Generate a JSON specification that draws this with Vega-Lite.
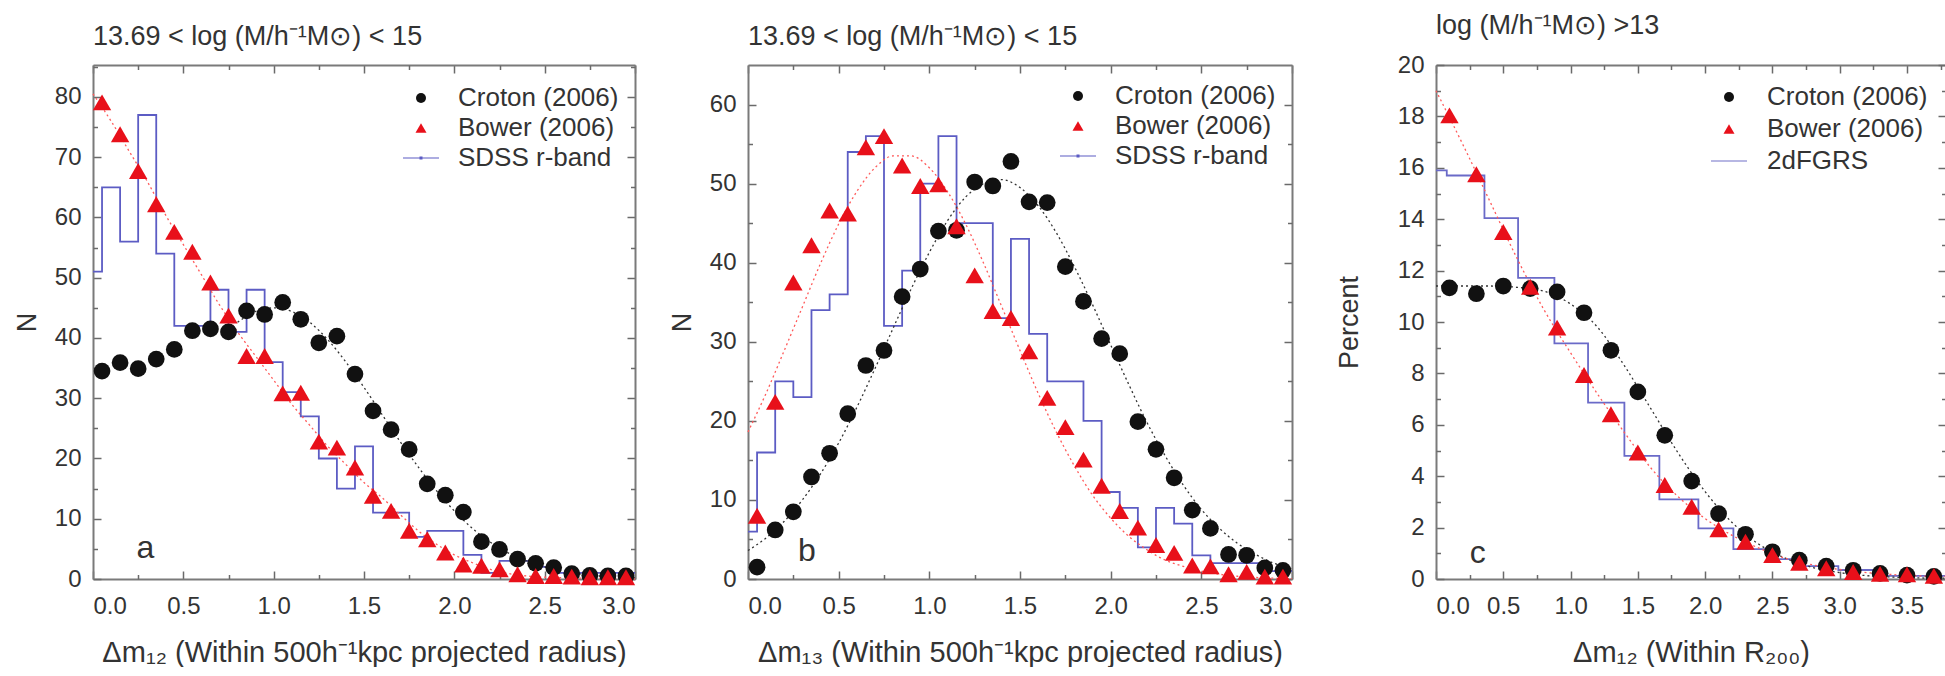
{
  "$schema": "https://vega.github.io/schema/vega-lite/v6.json",
  "background": "white",
  "padding": {"left": 13, "top": 12, "right": 0, "bottom": 0},
  "datasets": {
    "a_hist": [
      {"dm": 0.0, "n": 51}, {"dm": 0.1, "n": 65}, {"dm": 0.2, "n": 56}, {"dm": 0.3, "n": 77}, {"dm": 0.4, "n": 54},
      {"dm": 0.5, "n": 42}, {"dm": 0.6, "n": 42}, {"dm": 0.7, "n": 48}, {"dm": 0.8, "n": 41}, {"dm": 0.9, "n": 48},
      {"dm": 1.0, "n": 36}, {"dm": 1.1, "n": 31}, {"dm": 1.2, "n": 27}, {"dm": 1.3, "n": 20}, {"dm": 1.4, "n": 15},
      {"dm": 1.5, "n": 22}, {"dm": 1.6, "n": 11}, {"dm": 1.7, "n": 11}, {"dm": 1.8, "n": 7}, {"dm": 1.9, "n": 8},
      {"dm": 2.0, "n": 8}, {"dm": 2.1, "n": 4}, {"dm": 2.2, "n": 1}, {"dm": 2.3, "n": 3}, {"dm": 2.4, "n": 3},
      {"dm": 2.5, "n": 2}, {"dm": 2.6, "n": 1}, {"dm": 2.7, "n": 1}, {"dm": 2.8, "n": 1}, {"dm": 2.9, "n": 1},
      {"dm": 3.0, "n": 1}
    ],
    "a_fit_croton": [
      {"dm": 0.8, "n": 42.6}, {"dm": 0.9, "n": 44.4}, {"dm": 1.0, "n": 45.0}, {"dm": 1.1, "n": 44.4}, {"dm": 1.2, "n": 42.6},
      {"dm": 1.3, "n": 39.7}, {"dm": 1.4, "n": 36.0}, {"dm": 1.5, "n": 31.8}, {"dm": 1.6, "n": 27.3}, {"dm": 1.7, "n": 22.8},
      {"dm": 1.8, "n": 18.6}, {"dm": 1.9, "n": 14.7}, {"dm": 2.0, "n": 11.3}, {"dm": 2.1, "n": 8.4}, {"dm": 2.2, "n": 6.1},
      {"dm": 2.3, "n": 4.3}, {"dm": 2.4, "n": 3.0}, {"dm": 2.5, "n": 2.0}, {"dm": 2.6, "n": 1.3}, {"dm": 2.7, "n": 0.8},
      {"dm": 2.8, "n": 0.5}, {"dm": 2.9, "n": 0.3}, {"dm": 3.0, "n": 0.2}
    ],
    "a_fit_bower": [
      {"dm": 0.0, "n": 80.5}, {"dm": 0.1, "n": 76}, {"dm": 0.2, "n": 71}, {"dm": 0.3, "n": 66}, {"dm": 0.4, "n": 60.5},
      {"dm": 0.5, "n": 55.5}, {"dm": 0.6, "n": 50.5}, {"dm": 0.7, "n": 45.5}, {"dm": 0.8, "n": 41}, {"dm": 0.9, "n": 37},
      {"dm": 1.0, "n": 33}, {"dm": 1.1, "n": 29}, {"dm": 1.2, "n": 25.5}, {"dm": 1.3, "n": 22}, {"dm": 1.4, "n": 19},
      {"dm": 1.5, "n": 16}, {"dm": 1.6, "n": 13.5}, {"dm": 1.7, "n": 10.7}, {"dm": 1.8, "n": 8}, {"dm": 1.9, "n": 5.8},
      {"dm": 2.0, "n": 4}, {"dm": 2.1, "n": 2.7}, {"dm": 2.2, "n": 1.6}, {"dm": 2.3, "n": 0.9}, {"dm": 2.4, "n": 0.5},
      {"dm": 2.6, "n": 0.2}, {"dm": 2.8, "n": 0.1}, {"dm": 3.0, "n": 0.0}
    ],
    "a_points": [
      {"dm": 0.05, "n": 34.5, "model": "Croton (2006)"}, {"dm": 0.15, "n": 35.9, "model": "Croton (2006)"},
      {"dm": 0.25, "n": 34.9, "model": "Croton (2006)"}, {"dm": 0.35, "n": 36.5, "model": "Croton (2006)"},
      {"dm": 0.45, "n": 38.1, "model": "Croton (2006)"}, {"dm": 0.55, "n": 41.2, "model": "Croton (2006)"},
      {"dm": 0.65, "n": 41.5, "model": "Croton (2006)"}, {"dm": 0.75, "n": 41.0, "model": "Croton (2006)"},
      {"dm": 0.85, "n": 44.5, "model": "Croton (2006)"}, {"dm": 0.95, "n": 43.9, "model": "Croton (2006)"},
      {"dm": 1.05, "n": 45.9, "model": "Croton (2006)"}, {"dm": 1.15, "n": 43.1, "model": "Croton (2006)"},
      {"dm": 1.25, "n": 39.2, "model": "Croton (2006)"}, {"dm": 1.35, "n": 40.3, "model": "Croton (2006)"},
      {"dm": 1.45, "n": 34.0, "model": "Croton (2006)"}, {"dm": 1.55, "n": 27.9, "model": "Croton (2006)"},
      {"dm": 1.65, "n": 24.8, "model": "Croton (2006)"}, {"dm": 1.75, "n": 21.5, "model": "Croton (2006)"},
      {"dm": 1.85, "n": 15.8, "model": "Croton (2006)"}, {"dm": 1.95, "n": 13.9, "model": "Croton (2006)"},
      {"dm": 2.05, "n": 11.1, "model": "Croton (2006)"}, {"dm": 2.15, "n": 6.2, "model": "Croton (2006)"},
      {"dm": 2.25, "n": 4.9, "model": "Croton (2006)"}, {"dm": 2.35, "n": 3.3, "model": "Croton (2006)"},
      {"dm": 2.45, "n": 2.6, "model": "Croton (2006)"}, {"dm": 2.55, "n": 1.9, "model": "Croton (2006)"},
      {"dm": 2.65, "n": 0.9, "model": "Croton (2006)"}, {"dm": 2.75, "n": 0.6, "model": "Croton (2006)"},
      {"dm": 2.85, "n": 0.5, "model": "Croton (2006)"}, {"dm": 2.95, "n": 0.5, "model": "Croton (2006)"},
      {"dm": 0.05, "n": 79.1, "model": "Bower (2006)"}, {"dm": 0.15, "n": 73.8, "model": "Bower (2006)"},
      {"dm": 0.25, "n": 67.7, "model": "Bower (2006)"}, {"dm": 0.35, "n": 62.2, "model": "Bower (2006)"},
      {"dm": 0.45, "n": 57.6, "model": "Bower (2006)"}, {"dm": 0.55, "n": 54.3, "model": "Bower (2006)"},
      {"dm": 0.65, "n": 49.2, "model": "Bower (2006)"}, {"dm": 0.75, "n": 43.7, "model": "Bower (2006)"},
      {"dm": 0.85, "n": 37.0, "model": "Bower (2006)"}, {"dm": 0.95, "n": 37.0, "model": "Bower (2006)"},
      {"dm": 1.05, "n": 30.8, "model": "Bower (2006)"}, {"dm": 1.15, "n": 30.9, "model": "Bower (2006)"},
      {"dm": 1.25, "n": 22.8, "model": "Bower (2006)"}, {"dm": 1.35, "n": 21.8, "model": "Bower (2006)"},
      {"dm": 1.45, "n": 18.5, "model": "Bower (2006)"}, {"dm": 1.55, "n": 13.8, "model": "Bower (2006)"},
      {"dm": 1.65, "n": 11.3, "model": "Bower (2006)"}, {"dm": 1.75, "n": 8.0, "model": "Bower (2006)"},
      {"dm": 1.85, "n": 6.6, "model": "Bower (2006)"}, {"dm": 1.95, "n": 4.4, "model": "Bower (2006)"},
      {"dm": 2.05, "n": 2.4, "model": "Bower (2006)"}, {"dm": 2.15, "n": 2.2, "model": "Bower (2006)"},
      {"dm": 2.25, "n": 1.6, "model": "Bower (2006)"}, {"dm": 2.35, "n": 0.8, "model": "Bower (2006)"},
      {"dm": 2.45, "n": 0.5, "model": "Bower (2006)"}, {"dm": 2.55, "n": 0.5, "model": "Bower (2006)"},
      {"dm": 2.65, "n": 0.4, "model": "Bower (2006)"}, {"dm": 2.75, "n": 0.3, "model": "Bower (2006)"},
      {"dm": 2.85, "n": 0.3, "model": "Bower (2006)"}, {"dm": 2.95, "n": 0.3, "model": "Bower (2006)"}
    ],
    "b_hist": [
      {"dm": 0.0, "n": 6}, {"dm": 0.1, "n": 16}, {"dm": 0.2, "n": 25}, {"dm": 0.3, "n": 23}, {"dm": 0.4, "n": 34},
      {"dm": 0.5, "n": 36}, {"dm": 0.6, "n": 54}, {"dm": 0.7, "n": 56}, {"dm": 0.8, "n": 32}, {"dm": 0.9, "n": 39},
      {"dm": 1.0, "n": 50}, {"dm": 1.1, "n": 56}, {"dm": 1.2, "n": 45}, {"dm": 1.3, "n": 45}, {"dm": 1.4, "n": 33},
      {"dm": 1.5, "n": 43}, {"dm": 1.6, "n": 31}, {"dm": 1.7, "n": 25}, {"dm": 1.8, "n": 25}, {"dm": 1.9, "n": 20},
      {"dm": 2.0, "n": 11}, {"dm": 2.1, "n": 9}, {"dm": 2.2, "n": 4}, {"dm": 2.3, "n": 9}, {"dm": 2.4, "n": 7},
      {"dm": 2.5, "n": 3}, {"dm": 2.6, "n": 2}, {"dm": 2.7, "n": 2}, {"dm": 2.8, "n": 2}, {"dm": 2.9, "n": 1},
      {"dm": 3.0, "n": 1}
    ],
    "b_fit_croton": [
      {"dm": 0.0, "n": 3.6}, {"dm": 0.1, "n": 5.2}, {"dm": 0.2, "n": 7.3}, {"dm": 0.3, "n": 10.0}, {"dm": 0.4, "n": 13.3},
      {"dm": 0.5, "n": 17.2}, {"dm": 0.6, "n": 21.7}, {"dm": 0.7, "n": 26.6}, {"dm": 0.8, "n": 31.7}, {"dm": 0.9, "n": 36.7},
      {"dm": 1.0, "n": 41.3}, {"dm": 1.1, "n": 45.3}, {"dm": 1.2, "n": 48.3}, {"dm": 1.3, "n": 50.0}, {"dm": 1.4, "n": 50.5},
      {"dm": 1.5, "n": 49.5}, {"dm": 1.6, "n": 47.2}, {"dm": 1.7, "n": 43.8}, {"dm": 1.8, "n": 39.5}, {"dm": 1.9, "n": 34.7},
      {"dm": 2.0, "n": 29.6}, {"dm": 2.1, "n": 24.6}, {"dm": 2.2, "n": 19.8}, {"dm": 2.3, "n": 15.6}, {"dm": 2.4, "n": 11.9},
      {"dm": 2.5, "n": 8.8}, {"dm": 2.6, "n": 6.4}, {"dm": 2.7, "n": 4.5}, {"dm": 2.8, "n": 3.1}, {"dm": 2.9, "n": 2.0},
      {"dm": 3.0, "n": 1.3}
    ],
    "b_fit_bower": [
      {"dm": 0.0, "n": 18.6}, {"dm": 0.1, "n": 23.5}, {"dm": 0.2, "n": 28.9}, {"dm": 0.3, "n": 34.4}, {"dm": 0.4, "n": 39.9},
      {"dm": 0.5, "n": 44.9}, {"dm": 0.6, "n": 49.0}, {"dm": 0.7, "n": 52.0}, {"dm": 0.8, "n": 53.5}, {"dm": 0.9, "n": 53.5},
      {"dm": 1.0, "n": 52.0}, {"dm": 1.1, "n": 49.0}, {"dm": 1.2, "n": 44.9}, {"dm": 1.3, "n": 39.9}, {"dm": 1.4, "n": 34.4},
      {"dm": 1.5, "n": 28.9}, {"dm": 1.6, "n": 23.5}, {"dm": 1.7, "n": 18.6}, {"dm": 1.8, "n": 14.3}, {"dm": 1.9, "n": 10.6},
      {"dm": 2.0, "n": 7.7}, {"dm": 2.1, "n": 5.4}, {"dm": 2.2, "n": 3.7}, {"dm": 2.3, "n": 2.4}, {"dm": 2.4, "n": 1.6},
      {"dm": 2.5, "n": 1.0}, {"dm": 2.6, "n": 0.6}, {"dm": 2.7, "n": 0.35}, {"dm": 2.8, "n": 0.2}, {"dm": 2.9, "n": 0.1},
      {"dm": 3.0, "n": 0.05}
    ],
    "b_points": [
      {"dm": 0.05, "n": 1.5, "model": "Croton (2006)"}, {"dm": 0.15, "n": 6.2, "model": "Croton (2006)"},
      {"dm": 0.25, "n": 8.5, "model": "Croton (2006)"}, {"dm": 0.35, "n": 12.9, "model": "Croton (2006)"},
      {"dm": 0.45, "n": 15.9, "model": "Croton (2006)"}, {"dm": 0.55, "n": 20.9, "model": "Croton (2006)"},
      {"dm": 0.65, "n": 27.0, "model": "Croton (2006)"}, {"dm": 0.75, "n": 28.9, "model": "Croton (2006)"},
      {"dm": 0.85, "n": 35.7, "model": "Croton (2006)"}, {"dm": 0.95, "n": 39.2, "model": "Croton (2006)"},
      {"dm": 1.05, "n": 44.0, "model": "Croton (2006)"}, {"dm": 1.15, "n": 44.1, "model": "Croton (2006)"},
      {"dm": 1.25, "n": 50.2, "model": "Croton (2006)"}, {"dm": 1.35, "n": 49.7, "model": "Croton (2006)"},
      {"dm": 1.45, "n": 52.8, "model": "Croton (2006)"}, {"dm": 1.55, "n": 47.7, "model": "Croton (2006)"},
      {"dm": 1.65, "n": 47.6, "model": "Croton (2006)"}, {"dm": 1.75, "n": 39.5, "model": "Croton (2006)"},
      {"dm": 1.85, "n": 35.1, "model": "Croton (2006)"}, {"dm": 1.95, "n": 30.4, "model": "Croton (2006)"},
      {"dm": 2.05, "n": 28.5, "model": "Croton (2006)"}, {"dm": 2.15, "n": 19.9, "model": "Croton (2006)"},
      {"dm": 2.25, "n": 16.4, "model": "Croton (2006)"}, {"dm": 2.35, "n": 12.8, "model": "Croton (2006)"},
      {"dm": 2.45, "n": 8.7, "model": "Croton (2006)"}, {"dm": 2.55, "n": 6.4, "model": "Croton (2006)"},
      {"dm": 2.65, "n": 3.1, "model": "Croton (2006)"}, {"dm": 2.75, "n": 3.0, "model": "Croton (2006)"},
      {"dm": 2.85, "n": 1.4, "model": "Croton (2006)"}, {"dm": 2.95, "n": 1.1, "model": "Croton (2006)"},
      {"dm": 0.05, "n": 8.0, "model": "Bower (2006)"}, {"dm": 0.15, "n": 22.4, "model": "Bower (2006)"},
      {"dm": 0.25, "n": 37.5, "model": "Bower (2006)"}, {"dm": 0.35, "n": 42.2, "model": "Bower (2006)"},
      {"dm": 0.45, "n": 46.6, "model": "Bower (2006)"}, {"dm": 0.55, "n": 46.2, "model": "Bower (2006)"},
      {"dm": 0.65, "n": 54.6, "model": "Bower (2006)"}, {"dm": 0.75, "n": 56.0, "model": "Bower (2006)"},
      {"dm": 0.85, "n": 52.3, "model": "Bower (2006)"}, {"dm": 0.95, "n": 49.7, "model": "Bower (2006)"},
      {"dm": 1.05, "n": 49.9, "model": "Bower (2006)"}, {"dm": 1.15, "n": 44.6, "model": "Bower (2006)"},
      {"dm": 1.25, "n": 38.4, "model": "Bower (2006)"}, {"dm": 1.35, "n": 33.9, "model": "Bower (2006)"},
      {"dm": 1.45, "n": 33.0, "model": "Bower (2006)"}, {"dm": 1.55, "n": 28.8, "model": "Bower (2006)"},
      {"dm": 1.65, "n": 22.9, "model": "Bower (2006)"}, {"dm": 1.75, "n": 19.2, "model": "Bower (2006)"},
      {"dm": 1.85, "n": 15.1, "model": "Bower (2006)"}, {"dm": 1.95, "n": 11.8, "model": "Bower (2006)"},
      {"dm": 2.05, "n": 8.6, "model": "Bower (2006)"}, {"dm": 2.15, "n": 6.5, "model": "Bower (2006)"},
      {"dm": 2.25, "n": 4.3, "model": "Bower (2006)"}, {"dm": 2.35, "n": 3.3, "model": "Bower (2006)"},
      {"dm": 2.45, "n": 1.7, "model": "Bower (2006)"}, {"dm": 2.55, "n": 1.6, "model": "Bower (2006)"},
      {"dm": 2.65, "n": 0.6, "model": "Bower (2006)"}, {"dm": 2.75, "n": 0.9, "model": "Bower (2006)"},
      {"dm": 2.85, "n": 0.3, "model": "Bower (2006)"}, {"dm": 2.95, "n": 0.3, "model": "Bower (2006)"}
    ],
    "c_hist": [
      {"dm": 0.0, "n": 15.9}, {"dm": 0.08, "n": 15.7}, {"dm": 0.36, "n": 14.04}, {"dm": 0.61, "n": 11.72},
      {"dm": 0.88, "n": 9.17}, {"dm": 1.13, "n": 6.86}, {"dm": 1.4, "n": 4.79}, {"dm": 1.66, "n": 3.1},
      {"dm": 1.95, "n": 1.97}, {"dm": 2.21, "n": 1.16}, {"dm": 2.47, "n": 0.77}, {"dm": 2.7, "n": 0.5},
      {"dm": 2.99, "n": 0.35}, {"dm": 3.25, "n": 0.12}, {"dm": 3.79, "n": 0.12}
    ],
    "c_fit_croton": [
      {"dm": 0.0, "n": 11.4}, {"dm": 0.2, "n": 11.4}, {"dm": 0.4, "n": 11.4}, {"dm": 0.6, "n": 11.35}, {"dm": 0.8, "n": 11.2},
      {"dm": 0.9, "n": 11.0}, {"dm": 1.0, "n": 10.7}, {"dm": 1.2, "n": 9.8}, {"dm": 1.4, "n": 8.3}, {"dm": 1.6, "n": 6.6},
      {"dm": 1.8, "n": 4.9}, {"dm": 2.0, "n": 3.4}, {"dm": 2.2, "n": 2.2}, {"dm": 2.4, "n": 1.35}, {"dm": 2.6, "n": 0.8},
      {"dm": 2.8, "n": 0.45}, {"dm": 3.0, "n": 0.25}, {"dm": 3.2, "n": 0.13}, {"dm": 3.4, "n": 0.07}, {"dm": 3.6, "n": 0.04},
      {"dm": 3.79, "n": 0.03}
    ],
    "c_fit_bower": [
      {"dm": 0.0, "n": 19.0}, {"dm": 0.2, "n": 16.9}, {"dm": 0.4, "n": 14.7}, {"dm": 0.6, "n": 12.5}, {"dm": 0.8, "n": 10.5},
      {"dm": 1.0, "n": 8.8}, {"dm": 1.2, "n": 7.2}, {"dm": 1.4, "n": 5.7}, {"dm": 1.6, "n": 4.3}, {"dm": 1.8, "n": 3.2},
      {"dm": 2.0, "n": 2.35}, {"dm": 2.2, "n": 1.7}, {"dm": 2.4, "n": 1.2}, {"dm": 2.6, "n": 0.8}, {"dm": 2.8, "n": 0.55},
      {"dm": 3.0, "n": 0.37}, {"dm": 3.2, "n": 0.25}, {"dm": 3.4, "n": 0.17}, {"dm": 3.6, "n": 0.12}, {"dm": 3.79, "n": 0.1}
    ],
    "c_points": [
      {"dm": 0.1, "n": 11.33, "model": "Croton (2006)"}, {"dm": 0.3, "n": 11.1, "model": "Croton (2006)"},
      {"dm": 0.5, "n": 11.4, "model": "Croton (2006)"}, {"dm": 0.7, "n": 11.3, "model": "Croton (2006)"},
      {"dm": 0.9, "n": 11.17, "model": "Croton (2006)"}, {"dm": 1.1, "n": 10.36, "model": "Croton (2006)"},
      {"dm": 1.3, "n": 8.9, "model": "Croton (2006)"}, {"dm": 1.5, "n": 7.28, "model": "Croton (2006)"},
      {"dm": 1.7, "n": 5.59, "model": "Croton (2006)"}, {"dm": 1.9, "n": 3.81, "model": "Croton (2006)"},
      {"dm": 2.1, "n": 2.54, "model": "Croton (2006)"}, {"dm": 2.3, "n": 1.74, "model": "Croton (2006)"},
      {"dm": 2.5, "n": 1.06, "model": "Croton (2006)"}, {"dm": 2.7, "n": 0.73, "model": "Croton (2006)"},
      {"dm": 2.9, "n": 0.5, "model": "Croton (2006)"}, {"dm": 3.1, "n": 0.34, "model": "Croton (2006)"},
      {"dm": 3.3, "n": 0.22, "model": "Croton (2006)"}, {"dm": 3.5, "n": 0.15, "model": "Croton (2006)"},
      {"dm": 3.7, "n": 0.1, "model": "Croton (2006)"},
      {"dm": 0.1, "n": 18.04, "model": "Bower (2006)"}, {"dm": 0.3, "n": 15.75, "model": "Bower (2006)"},
      {"dm": 0.5, "n": 13.5, "model": "Bower (2006)"}, {"dm": 0.7, "n": 11.37, "model": "Bower (2006)"},
      {"dm": 0.9, "n": 9.78, "model": "Bower (2006)"}, {"dm": 1.1, "n": 7.94, "model": "Bower (2006)"},
      {"dm": 1.3, "n": 6.41, "model": "Bower (2006)"}, {"dm": 1.5, "n": 4.92, "model": "Bower (2006)"},
      {"dm": 1.7, "n": 3.66, "model": "Bower (2006)"}, {"dm": 1.9, "n": 2.81, "model": "Bower (2006)"},
      {"dm": 2.1, "n": 1.93, "model": "Bower (2006)"}, {"dm": 2.3, "n": 1.45, "model": "Bower (2006)"},
      {"dm": 2.5, "n": 0.93, "model": "Bower (2006)"}, {"dm": 2.7, "n": 0.63, "model": "Bower (2006)"},
      {"dm": 2.9, "n": 0.42, "model": "Bower (2006)"}, {"dm": 3.1, "n": 0.27, "model": "Bower (2006)"},
      {"dm": 3.3, "n": 0.2, "model": "Bower (2006)"}, {"dm": 3.5, "n": 0.18, "model": "Bower (2006)"},
      {"dm": 3.7, "n": 0.12, "model": "Bower (2006)"}
    ]
  },
  "hconcat": [
    {
      "hconcat": [
        {
          "width": 542,
          "height": 514,
          "title": {"text": "13.69 < log (M/h⁻¹M⊙) < 15", "anchor": "start", "frame": "group"},
          "layer": [
            {
              "data": {"name": "a_hist"},
              "mark": {"type": "line", "interpolate": "step", "color": "#5c5cc4", "strokeWidth": 1.8},
              "encoding": {
                "x": {"field": "dm", "type": "quantitative", "scale": {"domain": [0, 3], "nice": false, "zero": false},
                  "axis": {"orient": "bottom", "values": [0, 0.5, 1, 1.5, 2, 2.5, 3], "format": ".1f", "tickSize": -8, "labelPadding": 23,
                    "title": "Δm₁₂ (Within 500h⁻¹kpc projected radius)", "titlePadding": 20, "titleFontSize": 29}},
                "y": {"field": "n", "type": "quantitative", "scale": {"domain": [0, 85.3], "nice": false, "zero": false},
                  "axis": {"orient": "left", "values": [0, 10, 20, 30, 40, 50, 60, 70, 80], "tickSize": -8, "labelPadding": 20,
                    "minExtent": 40, "maxExtent": 40, "title": "N", "titlePadding": 12}}
              }
            },
            {
              "data": {"name": "a_fit_croton"},
              "mark": {"type": "line", "interpolate": "monotone", "color": "#333333", "strokeWidth": 1.3, "strokeDash": [2, 3]},
              "encoding": {
                "x": {"field": "dm", "type": "quantitative",
                  "axis": {"orient": "top", "values": [0, 0.5, 1, 1.5, 2, 2.5, 3], "tickSize": -8, "labels": false, "title": null, "minExtent": 0, "maxExtent": 0}},
                "y": {"field": "n", "type": "quantitative",
                  "axis": {"orient": "right", "values": [0, 10, 20, 30, 40, 50, 60, 70, 80], "tickSize": -8, "labels": false, "title": null, "minExtent": 0, "maxExtent": 0}}
              }
            },
            {
              "data": {"name": "a_fit_bower"},
              "mark": {"type": "line", "interpolate": "monotone", "color": "#ff5a5a", "strokeWidth": 1.3, "strokeDash": [2, 3]},
              "encoding": {
                "x": {"field": "dm", "type": "quantitative",
                  "axis": {"orient": "bottom", "values": [0.25, 0.75, 1.25, 1.75, 2.25, 2.75], "tickSize": -4.5, "labels": false, "domain": false, "title": null, "minExtent": 0, "maxExtent": 0}},
                "y": {"field": "n", "type": "quantitative",
                  "axis": {"orient": "left", "values": [5, 15, 25, 35, 45, 55, 65, 75, 85], "tickSize": -4.5, "labels": false, "domain": false, "title": null, "minExtent": 0, "maxExtent": 0}}
              }
            },
            {
              "data": {"name": "a_points"},
              "mark": {"type": "point", "filled": true, "opacity": 1, "size": 280, "strokeWidth": 0},
              "encoding": {
                "x": {"field": "dm", "type": "quantitative",
                  "axis": {"orient": "top", "values": [0.25, 0.75, 1.25, 1.75, 2.25, 2.75], "tickSize": -4.5, "labels": false, "domain": false, "title": null, "minExtent": 0, "maxExtent": 0}},
                "y": {"field": "n", "type": "quantitative",
                  "axis": {"orient": "right", "values": [5, 15, 25, 35, 45, 55, 65, 75, 85], "tickSize": -4.5, "labels": false, "domain": false, "title": null, "minExtent": 0, "maxExtent": 0}},
                "shape": {"field": "model", "type": "nominal",
                  "scale": {"domain": ["Croton (2006)", "Bower (2006)", "SDSS r-band"],
                    "range": ["circle", "M0,-0.95L1.1,0.95L-1.1,0.95Z", "M-3.6,-0.12H3.6V0.12H-3.6Z M-0.3,-0.3H0.3V0.3H-0.3Z"]},
                  "legend": {"orient": "none", "legendX": 315, "legendY": 20, "title": null, "rowPadding": 4, "labelOffset": 24}},
                "color": {"field": "model", "type": "nominal",
                  "scale": {"domain": ["Croton (2006)", "Bower (2006)", "SDSS r-band"], "range": ["#111111", "#e8101a", "#5c5cc4"]},
                  "legend": {"orient": "none", "legendX": 315, "legendY": 20, "title": null, "rowPadding": 4, "labelOffset": 24}}
              }
            },
            {
              "data": {"values": [{}]},
              "mark": {"type": "text", "fontSize": 32, "color": "#333333"},
              "encoding": {
                "x": {"datum": 0.29, "type": "quantitative", "axis": null},
                "y": {"datum": 5.2, "type": "quantitative", "axis": null},
                "text": {"value": "a"}
              }
            }
          ],
          "resolve": {"axis": {"x": "independent", "y": "independent"}}
        },
        {
          "width": 544,
          "height": 514,
          "title": {"text": "13.69 < log (M/h⁻¹M⊙) < 15", "anchor": "start", "frame": "group"},
          "layer": [
            {
              "data": {"name": "b_hist"},
              "mark": {"type": "line", "interpolate": "step", "color": "#5c5cc4", "strokeWidth": 1.8},
              "encoding": {
                "x": {"field": "dm", "type": "quantitative", "scale": {"domain": [0, 3], "nice": false, "zero": false},
                  "axis": {"orient": "bottom", "values": [0, 0.5, 1, 1.5, 2, 2.5, 3], "format": ".1f", "tickSize": -8, "labelPadding": 23,
                    "title": "Δm₁₃ (Within 500h⁻¹kpc projected radius)", "titlePadding": 20, "titleFontSize": 29}},
                "y": {"field": "n", "type": "quantitative", "scale": {"domain": [0, 65], "nice": false, "zero": false},
                  "axis": {"orient": "left", "values": [0, 10, 20, 30, 40, 50, 60], "tickSize": -8, "labelPadding": 20,
                    "minExtent": 40, "maxExtent": 40, "title": "N", "titlePadding": 12}}
              }
            },
            {
              "data": {"name": "b_fit_croton"},
              "mark": {"type": "line", "interpolate": "monotone", "color": "#333333", "strokeWidth": 1.3, "strokeDash": [2, 3]},
              "encoding": {
                "x": {"field": "dm", "type": "quantitative",
                  "axis": {"orient": "top", "values": [0, 0.5, 1, 1.5, 2, 2.5, 3], "tickSize": -8, "labels": false, "title": null, "minExtent": 0, "maxExtent": 0}},
                "y": {"field": "n", "type": "quantitative",
                  "axis": {"orient": "right", "values": [0, 10, 20, 30, 40, 50, 60], "tickSize": -8, "labels": false, "title": null, "minExtent": 0, "maxExtent": 0}}
              }
            },
            {
              "data": {"name": "b_fit_bower"},
              "mark": {"type": "line", "interpolate": "monotone", "color": "#ff5a5a", "strokeWidth": 1.3, "strokeDash": [2, 3]},
              "encoding": {
                "x": {"field": "dm", "type": "quantitative",
                  "axis": {"orient": "bottom", "values": [0.25, 0.75, 1.25, 1.75, 2.25, 2.75], "tickSize": -4.5, "labels": false, "domain": false, "title": null, "minExtent": 0, "maxExtent": 0}},
                "y": {"field": "n", "type": "quantitative",
                  "axis": {"orient": "left", "values": [5, 15, 25, 35, 45, 55], "tickSize": -4.5, "labels": false, "domain": false, "title": null, "minExtent": 0, "maxExtent": 0}}
              }
            },
            {
              "data": {"name": "b_points"},
              "mark": {"type": "point", "filled": true, "opacity": 1, "size": 280, "strokeWidth": 0},
              "encoding": {
                "x": {"field": "dm", "type": "quantitative",
                  "axis": {"orient": "top", "values": [0.25, 0.75, 1.25, 1.75, 2.25, 2.75], "tickSize": -4.5, "labels": false, "domain": false, "title": null, "minExtent": 0, "maxExtent": 0}},
                "y": {"field": "n", "type": "quantitative",
                  "axis": {"orient": "right", "values": [5, 15, 25, 35, 45, 55], "tickSize": -4.5, "labels": false, "domain": false, "title": null, "minExtent": 0, "maxExtent": 0}},
                "shape": {"field": "model", "type": "nominal",
                  "scale": {"domain": ["Croton (2006)", "Bower (2006)", "SDSS r-band"],
                    "range": ["circle", "M0,-0.95L1.1,0.95L-1.1,0.95Z", "M-3.6,-0.12H3.6V0.12H-3.6Z M-0.3,-0.3H0.3V0.3H-0.3Z"]},
                  "legend": {"orient": "none", "legendX": 317, "legendY": 18, "title": null, "rowPadding": 4, "labelOffset": 24}},
                "color": {"field": "model", "type": "nominal",
                  "scale": {"domain": ["Croton (2006)", "Bower (2006)", "SDSS r-band"], "range": ["#111111", "#e8101a", "#5c5cc4"]},
                  "legend": {"orient": "none", "legendX": 317, "legendY": 18, "title": null, "rowPadding": 4, "labelOffset": 24}}
              }
            },
            {
              "data": {"values": [{}]},
              "mark": {"type": "text", "fontSize": 32, "color": "#333333"},
              "encoding": {
                "x": {"datum": 0.325, "type": "quantitative", "axis": null},
                "y": {"datum": 3.6, "type": "quantitative", "axis": null},
                "text": {"value": "b"}
              }
            }
          ],
          "resolve": {"axis": {"x": "independent", "y": "independent"}}
        }
      ],
      "spacing": 29,
      "resolve": {
        "scale": {"color": "independent", "shape": "independent"},
        "legend": {"color": "independent", "shape": "independent"}
      }
    },
    {
      "width": 510,
      "height": 514,
      "title": {"text": "log (M/h⁻¹M⊙) >13", "anchor": "start", "frame": "group"},
      "layer": [
        {
          "data": {"name": "c_hist"},
          "mark": {"type": "line", "interpolate": "step-after", "color": "#6a6ac8", "strokeWidth": 1.8},
          "encoding": {
            "x": {"field": "dm", "type": "quantitative", "scale": {"domain": [0, 3.79], "nice": false, "zero": false},
              "axis": {"orient": "bottom", "values": [0, 0.5, 1, 1.5, 2, 2.5, 3, 3.5], "format": ".1f", "tickSize": -8, "labelPadding": 23,
                "title": "Δm₁₂ (Within R₂₀₀)", "titlePadding": 20, "titleFontSize": 29}},
            "y": {"field": "n", "type": "quantitative", "scale": {"domain": [0, 20], "nice": false, "zero": false},
              "axis": {"orient": "left", "values": [0, 2, 4, 6, 8, 10, 12, 14, 16, 18, 20], "tickSize": -8, "labelPadding": 20,
                "minExtent": 40, "maxExtent": 40, "title": "Percent", "titlePadding": 33}}
          }
        },
        {
          "data": {"name": "c_fit_croton"},
          "mark": {"type": "line", "interpolate": "monotone", "color": "#333333", "strokeWidth": 1.3, "strokeDash": [2, 3]},
          "encoding": {
            "x": {"field": "dm", "type": "quantitative",
              "axis": {"orient": "top", "values": [0, 0.5, 1, 1.5, 2, 2.5, 3, 3.5], "tickSize": -8, "labels": false, "title": null, "minExtent": 0, "maxExtent": 0}},
            "y": {"field": "n", "type": "quantitative",
              "axis": {"orient": "right", "values": [0, 2, 4, 6, 8, 10, 12, 14, 16, 18, 20], "tickSize": -8, "labels": false, "title": null, "minExtent": 0, "maxExtent": 0}}
          }
        },
        {
          "data": {"name": "c_fit_bower"},
          "mark": {"type": "line", "interpolate": "monotone", "color": "#ff5a5a", "strokeWidth": 1.3, "strokeDash": [2, 3]},
          "encoding": {
            "x": {"field": "dm", "type": "quantitative",
              "axis": {"orient": "bottom", "values": [0.25, 0.75, 1.25, 1.75, 2.25, 2.75, 3.25, 3.75], "tickSize": -4.5, "labels": false, "domain": false, "title": null, "minExtent": 0, "maxExtent": 0}},
            "y": {"field": "n", "type": "quantitative",
              "axis": {"orient": "left", "values": [1, 3, 5, 7, 9, 11, 13, 15, 17, 19], "tickSize": -4.5, "labels": false, "domain": false, "title": null, "minExtent": 0, "maxExtent": 0}}
          }
        },
        {
          "data": {"name": "c_points"},
          "mark": {"type": "point", "filled": true, "opacity": 1, "size": 280, "strokeWidth": 0},
          "encoding": {
            "x": {"field": "dm", "type": "quantitative",
              "axis": {"orient": "top", "values": [0.25, 0.75, 1.25, 1.75, 2.25, 2.75, 3.25, 3.75], "tickSize": -4.5, "labels": false, "domain": false, "title": null, "minExtent": 0, "maxExtent": 0}},
            "y": {"field": "n", "type": "quantitative",
              "axis": {"orient": "right", "values": [1, 3, 5, 7, 9, 11, 13, 15, 17, 19], "tickSize": -4.5, "labels": false, "domain": false, "title": null, "minExtent": 0, "maxExtent": 0}},
            "shape": {"field": "model", "type": "nominal",
              "scale": {"domain": ["Croton (2006)", "Bower (2006)", "2dFGRS"],
                "range": ["circle", "M0,-0.95L1.1,0.95L-1.1,0.95Z", "M-3.6,-0.12H3.6V0.12H-3.6Z"]},
              "legend": {"orient": "none", "legendX": 280, "legendY": 19, "title": null, "rowPadding": 6, "labelOffset": 25}},
            "color": {"field": "model", "type": "nominal",
              "scale": {"domain": ["Croton (2006)", "Bower (2006)", "2dFGRS"], "range": ["#111111", "#e8101a", "#7070c8"]},
              "legend": {"orient": "none", "legendX": 280, "legendY": 19, "title": null, "rowPadding": 6, "labelOffset": 25}}
          }
        },
        {
          "data": {"values": [{}]},
          "mark": {"type": "text", "fontSize": 32, "color": "#333333"},
          "encoding": {
            "x": {"datum": 0.31, "type": "quantitative", "axis": null},
            "y": {"datum": 1.0, "type": "quantitative", "axis": null},
            "text": {"value": "c"}
          }
        }
      ],
      "resolve": {"axis": {"x": "independent", "y": "independent"}}
    }
  ],
  "spacing": 39,
  "resolve": {
    "scale": {"color": "independent", "shape": "independent"},
    "legend": {"color": "independent", "shape": "independent"}
  },
  "config": {
    "font": "Liberation Sans",
    "view": {"stroke": null},
    "axis": {
      "grid": false,
      "domainColor": "#7a7a7a",
      "domainWidth": 2,
      "tickColor": "#6a6a6a",
      "tickWidth": 1.5,
      "labelColor": "#333333",
      "labelFont": "Liberation Sans",
      "labelFontSize": 24,
      "titleColor": "#333333",
      "titleFont": "Liberation Sans",
      "titleFontSize": 27,
      "titleFontWeight": "normal"
    },
    "legend": {
      "labelFont": "Liberation Sans",
      "labelFontSize": 26,
      "labelColor": "#333333",
      "padding": 0,
      "symbolStrokeWidth": 0,
      "labelLimit": 400
    },
    "title": {
      "font": "Liberation Sans",
      "fontSize": 27,
      "fontWeight": "normal",
      "color": "#333333",
      "offset": 13
    }
  }
}
